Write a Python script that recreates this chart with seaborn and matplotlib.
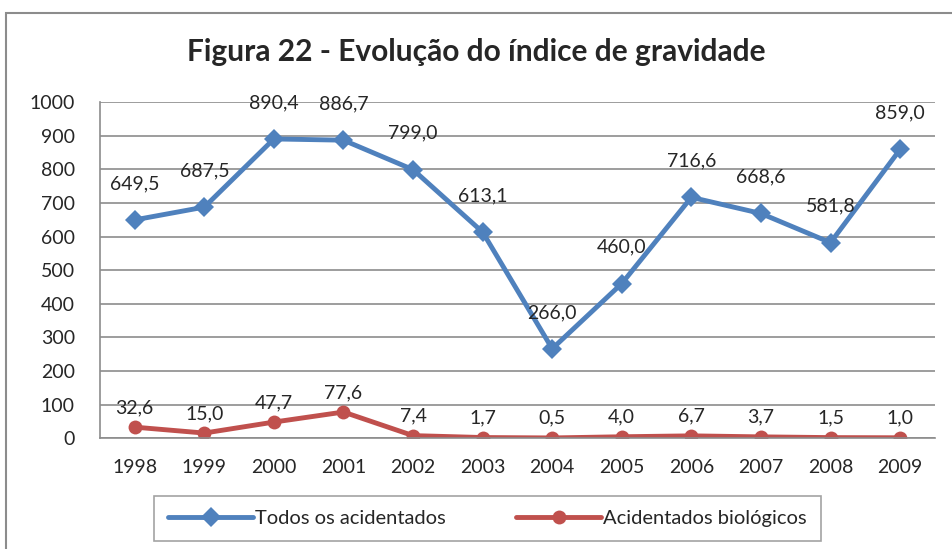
import matplotlib
matplotlib.use("Agg")
import matplotlib.pyplot as plt
import seaborn as sns
import pandas as pd
from matplotlib.patches import Rectangle

years = ["1998", "1999", "2000", "2001", "2002", "2003", "2004", "2005", "2006", "2007", "2008", "2009"]
todos = [649.5, 687.5, 890.4, 886.7, 799.0, 613.1, 266.0, 460.0, 716.6, 668.6, 581.8, 859.0]
biologicos = [32.6, 15.0, 47.7, 77.6, 7.4, 1.7, 0.5, 4.0, 6.7, 3.7, 1.5, 1.0]
series_names = ["Todos os acidentados", "Acidentados biológicos"]
title = "Figura 22 - Evolução do índice de gravidade"

BLUE = "#4F81BD"
RED = "#C0504D"

sns.set_style("white")
plt.rcParams["font.family"] = ["Lato", "DejaVu Sans"]

df = pd.DataFrame({
    "ano": list(range(len(years))) * 2,
    "valor": todos + biologicos,
    "serie": [series_names[0]] * len(years) + [series_names[1]] * len(years),
})

fig = plt.figure(figsize=(9.52, 5.49), dpi=100)
ax = fig.add_axes([0.105, 0.202, 0.877, 0.612])

sns.lineplot(data=df, x="ano", y="valor", hue="serie", style="serie",
             palette=[BLUE, RED], markers=["D", "o"], dashes=False,
             linewidth=3.5, markersize=10, markeredgewidth=0, ax=ax, legend=True)

# data labels
for i, v in enumerate(todos):
    ax.annotate(f"{v:.1f}".replace(".", ","), (i, v), xytext=(0, 20),
                textcoords="offset points", ha="center", va="bottom", fontsize=14)
for i, v in enumerate(biologicos):
    ax.annotate(f"{v:.1f}".replace(".", ","), (i, v), xytext=(0, 8),
                textcoords="offset points", ha="center", va="bottom", fontsize=14)

ax.set_xlim(-0.5, len(years) - 0.5)
ax.set_ylim(0, 1000)
ax.set_yticks(range(0, 1001, 100))
ax.set_xticks(range(len(years)))
ax.set_xticklabels(years)
ax.tick_params(axis="y", labelsize=14, length=0, pad=18)
ax.tick_params(axis="x", labelsize=14, length=0, pad=15)
ax.yaxis.grid(True, color="#8C8C8C", linewidth=1.2)
ax.set_axisbelow(True)
ax.set_xlabel("")
ax.set_ylabel("")
for side in ["top", "right"]:
    ax.spines[side].set_visible(False)
ax.spines["left"].set_color("#8C8C8C")
ax.spines["left"].set_linewidth(1.2)
ax.spines["bottom"].set_color("#8C8C8C")
ax.spines["bottom"].set_linewidth(1.2)

leg = ax.legend(loc="center", ncol=2, fontsize=14.5, frameon=True, fancybox=False,
                handlelength=4.2, handletextpad=0.1, columnspacing=3.5, borderpad=0.7)
leg.set_bbox_to_anchor((0.512, 0.055), transform=fig.transFigure)
leg.get_frame().set_edgecolor("#8C8C8C")
leg.get_frame().set_linewidth(1.2)

fig.text(0.5, 0.905, title, ha="center", va="center", fontsize=21.5, fontweight="bold")

# outer chart border
fig.patches.append(Rectangle((0.006, -0.05), 1.2, 1.027, transform=fig.transFigure,
                             fill=False, edgecolor="#8C8C8C", linewidth=1.5))

fig.savefig("out.png", dpi=100)
